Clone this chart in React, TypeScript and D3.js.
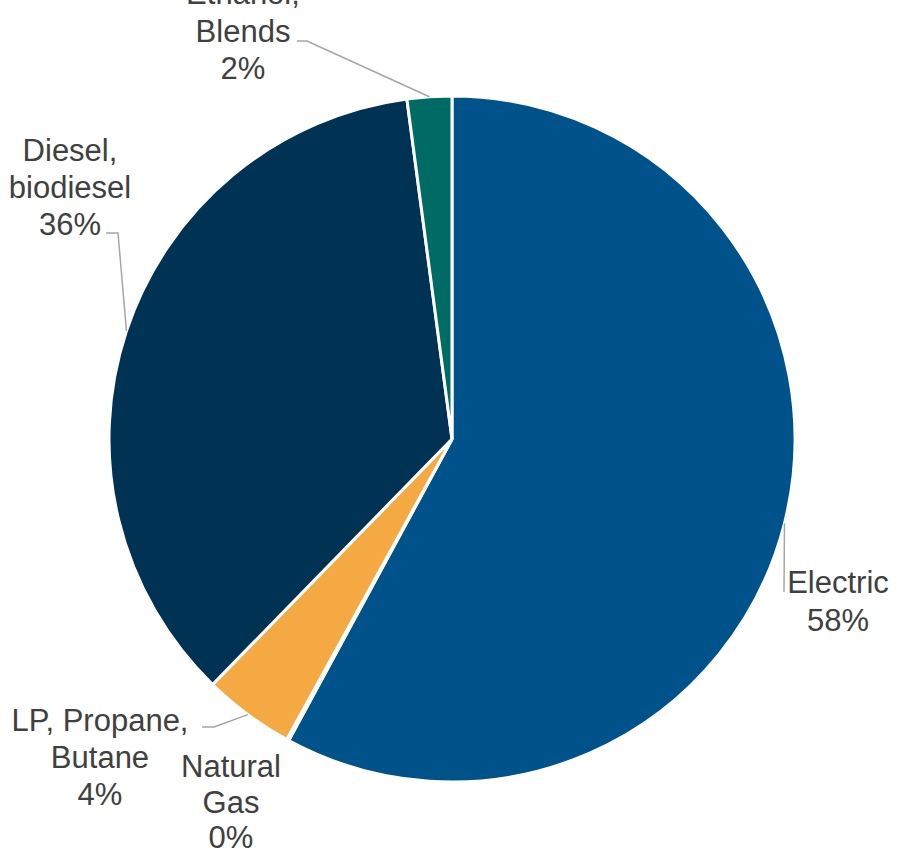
import React from "react";
import * as d3 from "d3";

const categories = ["Electric", "Natural Gas", "LP, Propane, Butane", "Diesel, biodiesel", "Ethanol, Blends"];
const values = [57.9, 0.1, 4.3, 35.6, 2.1];
const percentLabels = ["58%", "0%", "4%", "36%", "2%"];
const labelLines = [["Electric"], ["Natural", "Gas"], ["LP, Propane,", "Butane"], ["Diesel,", "biodiesel"], ["Ethanol,", "Blends"]];
const colors = ["#00538a", "#a5a5a5", "#f5a943", "#003253", "#006b64"];

const W = 899, H = 853;
const cx = 452, cy = 439, R = 343;

// label layout: text center x, first line baseline y, line height, leader elbow (or null)
const labelLayout = [
  { x: 838, y: 593, lh: 38, elbow: [[784, 592]] },
  { x: 231, y: 777, lh: 35.5, elbow: null },
  { x: 100, y: 731, lh: 37, elbow: [[214, 727], [202, 727]] },
  { x: 70, y: 161, lh: 37, elbow: [[118, 233], [106, 233]] },
  { x: 243, y: 4, lh: 37.5, elbow: [[307, 41], [297, 41]] },
];

export default function App() {
  const data = categories.map((c, i) => ({ c, v: values[i], i }));
  const pie = d3.pie<any>().value((d) => d.v).sort(null).startAngle(0).endAngle(2 * Math.PI);
  const arcs = pie(data);
  const arc = d3.arc<any>().innerRadius(0).outerRadius(R);
  return (
    <svg width={W} height={H} style={{ position: "absolute", left: 0, top: 0 }}>
      <g transform={`translate(${cx},${cy})`}>
        {arcs.map((a, i) => (
          <path key={i} d={arc(a) || ""} fill={colors[i]} stroke="#fff" strokeWidth={3} strokeLinejoin="miter" />
        ))}
      </g>
      {arcs.map((a, i) => {
        const lay = labelLayout[i];
        if (!lay.elbow) return null;
        const mid = (a.startAngle + a.endAngle) / 2;
        const ax = cx + R * Math.sin(mid);
        const ay = cy - R * Math.cos(mid);
        const pts = [[ax, ay], ...lay.elbow];
        return (
          <polyline key={"l" + i} points={pts.map((p) => p.join(",")).join(" ")} fill="none" stroke="#a6a6a6" strokeWidth={1.5} />
        );
      })}
      {arcs.map((a, i) => {
        const lay = labelLayout[i];
        const lines = [...labelLines[i], percentLabels[i]];
        return (
          <text key={"t" + i} x={lay.x} y={lay.y} textAnchor="middle" fill="#404040"
            style={{ fontFamily: "'Liberation Sans', Arial, sans-serif", fontSize: 31 }}>
            {lines.map((t, j) => (
              <tspan key={j} x={lay.x} dy={j === 0 ? 0 : lay.lh}>{t}</tspan>
            ))}
          </text>
        );
      })}
    </svg>
  );
}
